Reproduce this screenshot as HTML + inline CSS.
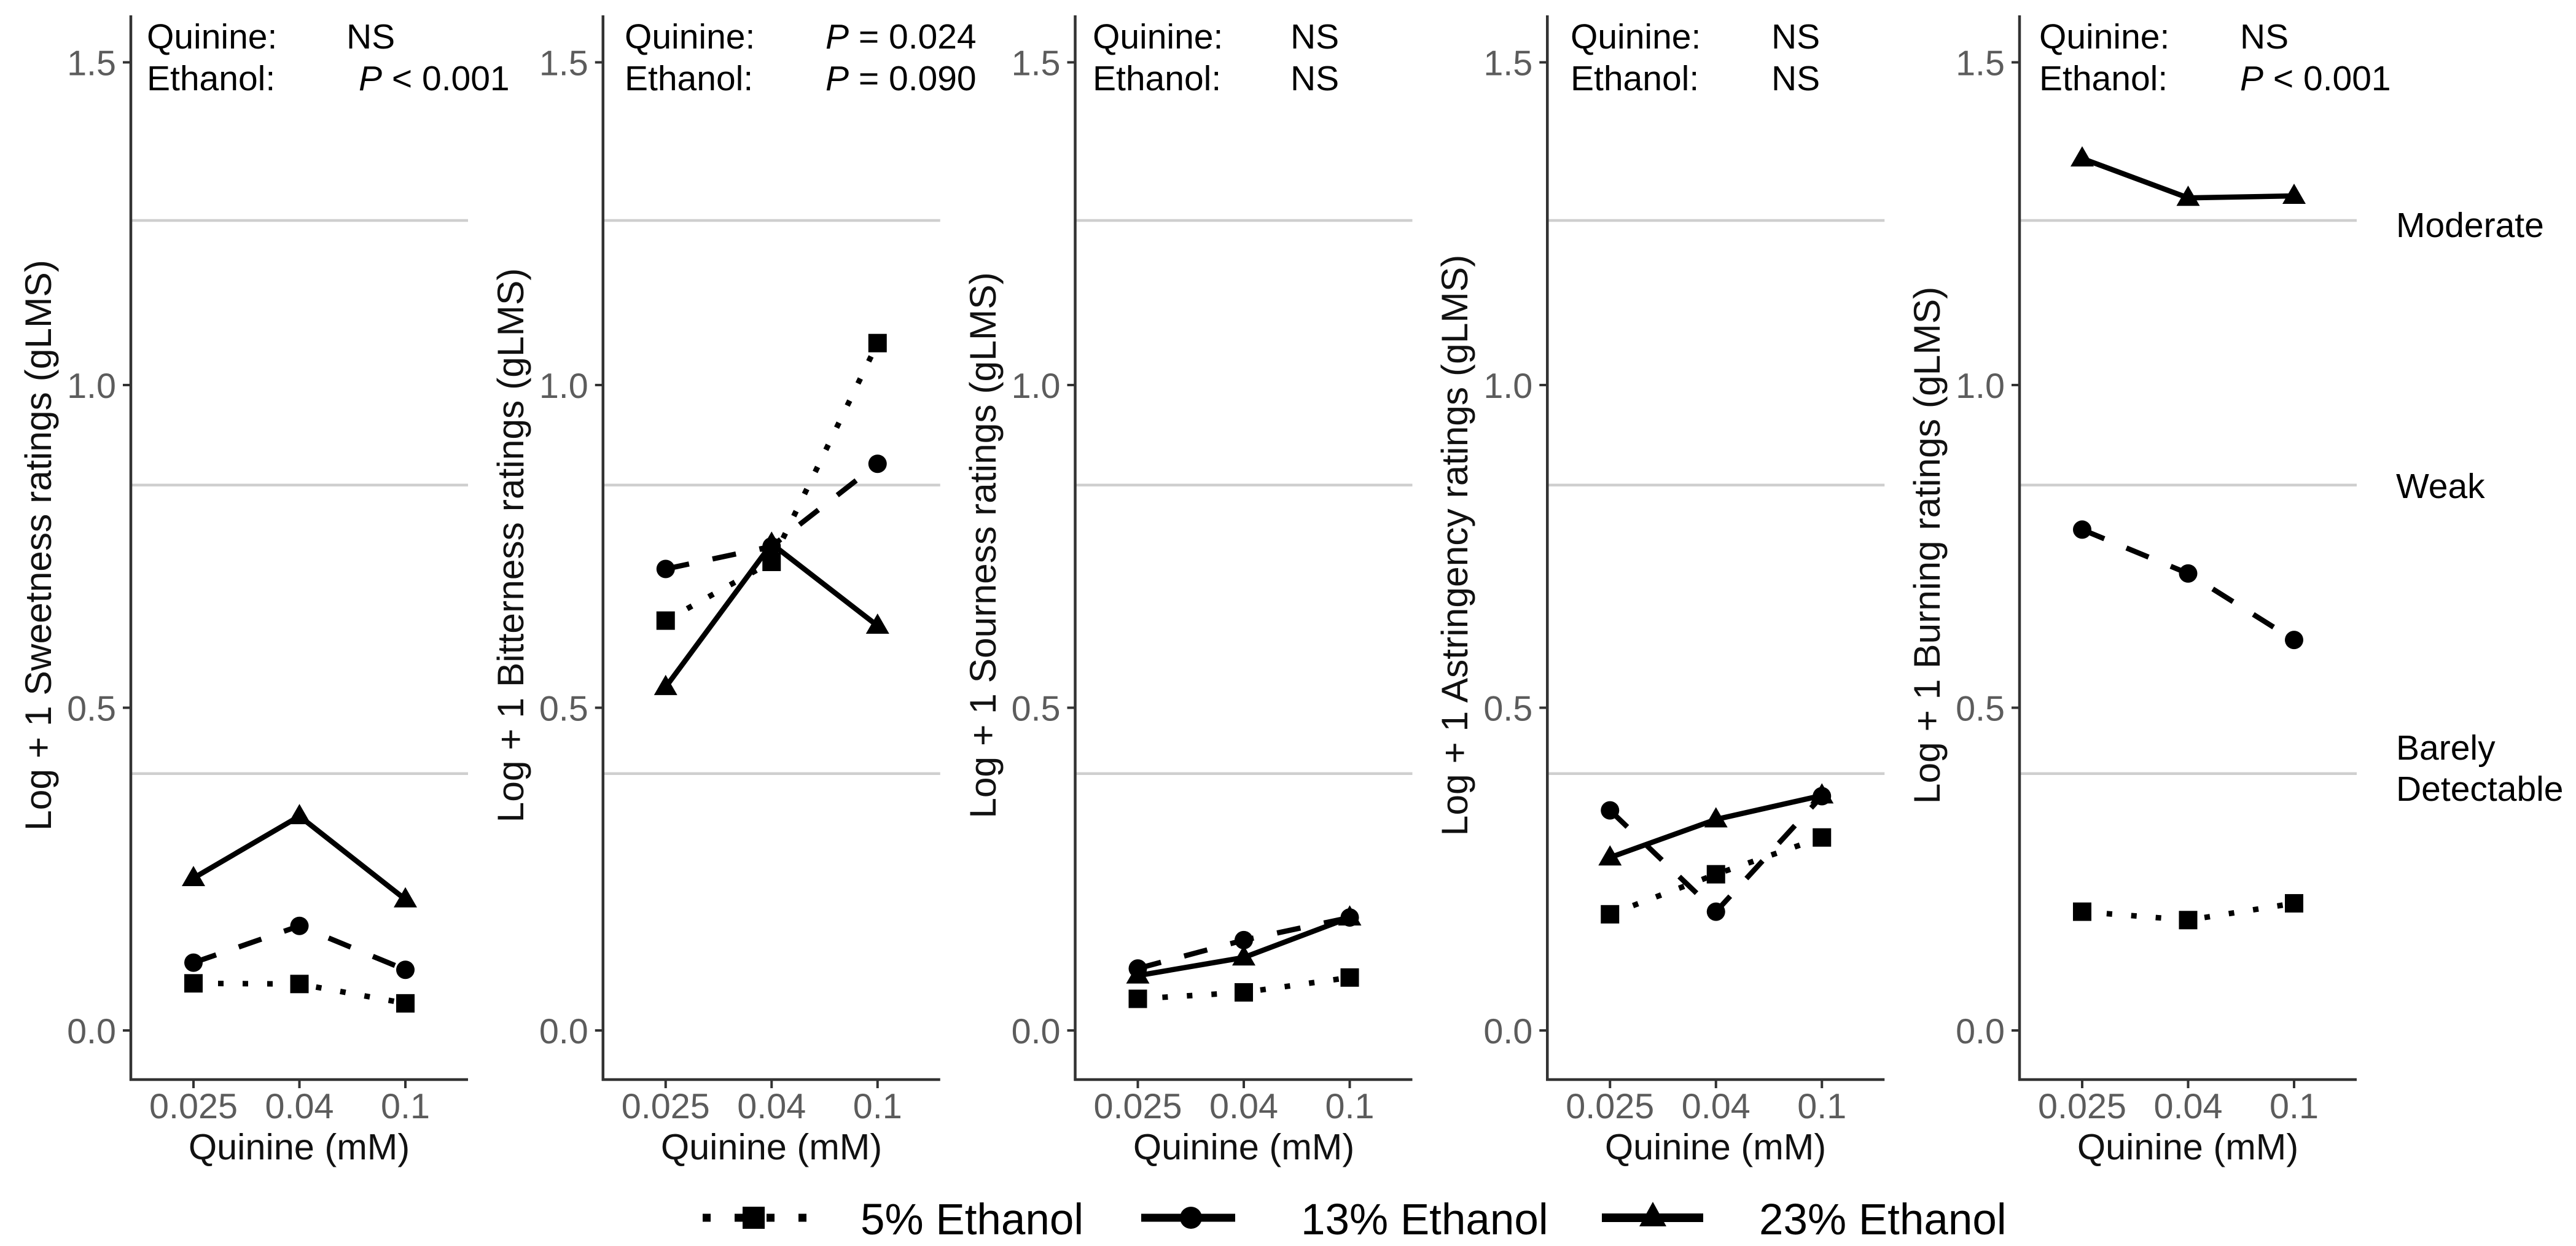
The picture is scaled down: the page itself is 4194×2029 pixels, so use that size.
<!DOCTYPE html>
<html lang="en">
<head>
<meta charset="utf-8">
<title>Log + 1 sensory ratings by quinine and ethanol concentration</title>
<style>
html,body{margin:0;padding:0;background:#fff;}
#chart{display:block;width:4194px;height:2029px;font-family:"Liberation Sans",sans-serif;}
.ann{font-size:57px;fill:#000;}
.ytitle{font-size:60.5px;fill:#111;text-anchor:middle;}
.xtitle{font-size:59.5px;fill:#111;text-anchor:middle;}
.tick{font-size:57.5px;fill:#5c5c5c;}
.leg{font-size:71px;fill:#000;}
</style>
</head>
<body>
<svg id="chart" xmlns="http://www.w3.org/2000/svg" width="4194" height="2029" viewBox="0 0 4194 2029">
  <rect x="0" y="0" width="4194" height="2029" fill="#fff"/>
  <g id="plots"></g>

  <g>
    <text class="ytitle" transform="translate(83 888) rotate(-90)">Log + 1 Sweetness ratings (gLMS)</text>
    <text class="ytitle" transform="translate(852 888) rotate(-90)">Log + 1 Bitterness ratings (gLMS)</text>
    <text class="ytitle" transform="translate(1621 888) rotate(-90)">Log + 1 Sourness ratings (gLMS)</text>
    <text class="ytitle" transform="translate(2389 888) rotate(-90)">Log + 1 Astringency ratings (gLMS)</text>
    <text class="ytitle" transform="translate(3158 888) rotate(-90)">Log + 1 Burning ratings (gLMS)</text>
  </g>

  <g>
    <text class="xtitle" x="487" y="1888">Quinine (mM)</text>
    <text class="xtitle" x="1256" y="1888">Quinine (mM)</text>
    <text class="xtitle" x="2025" y="1888">Quinine (mM)</text>
    <text class="xtitle" x="2793" y="1888">Quinine (mM)</text>
    <text class="xtitle" x="3562" y="1888">Quinine (mM)</text>
  </g>

  <g>
    <text class="ann" x="239" y="79">Quinine:</text>
    <text class="ann" x="564" y="79">NS</text>
    <text class="ann" x="239" y="147">Ethanol:</text>
    <text class="ann" x="584" y="147"><tspan font-style="italic">P</tspan> &lt; 0.001</text>

    <text class="ann" x="1017" y="79">Quinine:</text>
    <text class="ann" x="1344" y="79"><tspan font-style="italic">P</tspan> = 0.024</text>
    <text class="ann" x="1017" y="147">Ethanol:</text>
    <text class="ann" x="1344" y="147"><tspan font-style="italic">P</tspan> = 0.090</text>

    <text class="ann" x="1779" y="79">Quinine:</text>
    <text class="ann" x="2101" y="79">NS</text>
    <text class="ann" x="1779" y="147">Ethanol:</text>
    <text class="ann" x="2101" y="147">NS</text>

    <text class="ann" x="2557" y="79">Quinine:</text>
    <text class="ann" x="2884" y="79">NS</text>
    <text class="ann" x="2557" y="147">Ethanol:</text>
    <text class="ann" x="2884" y="147">NS</text>

    <text class="ann" x="3320" y="79">Quinine:</text>
    <text class="ann" x="3647" y="79">NS</text>
    <text class="ann" x="3320" y="147">Ethanol:</text>
    <text class="ann" x="3647" y="147"><tspan font-style="italic">P</tspan> &lt; 0.001</text>
  </g>

  <g>
    <text class="ann" x="3901" y="386">Moderate</text>
    <text class="ann" x="3901" y="811">Weak</text>
    <text class="ann" x="3901" y="1237">Barely</text>
    <text class="ann" x="3901" y="1304">Detectable</text>
  </g>

  <g>
    <g>
      <line x1="1144" y1="1983" x2="1314" y2="1983" stroke="#000" stroke-width="13" stroke-dasharray="13 39"/>
      <rect x="1209" y="1965" width="36" height="36" fill="#000"/>
      <text class="leg" x="1401" y="2010">5% Ethanol</text>
    </g>
    <g>
      <line x1="1858" y1="1983" x2="2011" y2="1983" stroke="#000" stroke-width="13" stroke-dasharray="64 32 57"/>
      <circle cx="1939" cy="1983" r="18" fill="#000"/>
      <text class="leg" x="2118" y="2010">13% Ethanol</text>
    </g>
    <g>
      <line x1="2608" y1="1983" x2="2773" y2="1983" stroke="#000" stroke-width="14"/>
      <polygon points="2691,1957 2713,1997 2669,1997" fill="#000"/>
      <text class="leg" x="2864" y="2010">23% Ethanol</text>
    </g>
  </g>
</svg>

<script>
// Categories and tick labels
const quinineLevels = ["0.025", "0.04", "0.1"];
const yTicks = [0, 0.5, 1.0, 1.5];
const yTickLabels = ["0.0", "0.5", "1.0", "1.5"];
const panelNames = ["sweetness", "bitterness", "sourness", "astringency", "burning"];
const seriesNames = ["5-percent", "13-percent", "23-percent"];
// gLMS reference lines: log10(1 + label value)
const referenceLevels = [1.255, 0.845, 0.398];

// Series values
const sweetness5 = [0.073, 0.072, 0.042];
const sweetness13 = [0.105, 0.162, 0.094];
const sweetness23 = [0.236, 0.332, 0.203];

const bitterness5 = [0.635, 0.726, 1.065];
const bitterness13 = [0.715, 0.75, 0.878];
const bitterness23 = [0.532, 0.754, 0.627];

const sourness5 = [0.049, 0.059, 0.082];
const sourness13 = [0.096, 0.14, 0.175];
const sourness23 = [0.085, 0.113, 0.175];

const astringency5 = [0.18, 0.242, 0.299];
const astringency13 = [0.341, 0.184, 0.363];
const astringency23 = [0.268, 0.327, 0.364];

const burning5 = [0.184, 0.171, 0.197];
const burning13 = [0.776, 0.708, 0.605];
const burning23 = [1.351, 1.29, 1.293];

const panelSeries = [
  [sweetness5, sweetness13, sweetness23],
  [bitterness5, bitterness13, bitterness23],
  [sourness5, sourness13, sourness23],
  [astringency5, astringency13, astringency23],
  [burning5, burning13, burning23]
];

// Layout
const NS = "http://www.w3.org/2000/svg";
const panelLeft = p => 213 + p * 768.75;
const panelWidth = 549;
const plotTop = 25;
const plotBottom = 1758;
const axisColor = "#333";

// Axis functions
function xScale(p, i) { return panelLeft(p) + 102 + i * 172.5; }
function yScale(v) { return 1678 - v * 1051; }

function make(tag, attrs, parent) {
  const el = document.createElementNS(NS, tag);
  for (const k in attrs) el.setAttribute(k, attrs[k]);
  parent.appendChild(el);
  return el;
}

const plots = document.getElementById("plots");

panelNames.forEach(function (name, p) {
  const left = panelLeft(p);
  const g = make("g", {}, plots);
  
  

  referenceLevels.forEach(function (level) {
    const ref = make("line", { x1: left, x2: left + panelWidth, y1: yScale(level), y2: yScale(level), stroke: "#cfcfcf", "stroke-width": 4.5 }, g);
    
    
  });

  const yAxis = make("line", { x1: left, x2: left, y1: plotTop, y2: plotBottom + 2, stroke: axisColor, "stroke-width": 4.5 }, g);
  
  

  const xAxis = make("line", { x1: left - 2, x2: left + panelWidth, y1: plotBottom, y2: plotBottom, stroke: axisColor, "stroke-width": 4.5 }, g);
  
  

  yTicks.forEach(function (t, k) {
    const mark = make("line", { x1: left - 13, x2: left, y1: yScale(t), y2: yScale(t), stroke: axisColor, "stroke-width": 4 }, g);
    
    
    const label = make("text", { x: left - 24, y: yScale(t) + 21, "text-anchor": "end", class: "tick" }, g);
    
    
    label.textContent = yTickLabels[k];
  });

  quinineLevels.forEach(function (q, i) {
    const mark = make("line", { x1: xScale(p, i), x2: xScale(p, i), y1: plotBottom, y2: plotBottom + 14, stroke: axisColor, "stroke-width": 4 }, g);
    
    
    const label = make("text", { x: xScale(p, i), y: 1821, "text-anchor": "middle", class: "tick" }, g);
    
    
    label.textContent = q;
  });

  panelSeries[p].forEach(function (values, s) {
    const sg = make("g", {}, g);
    
    

    const pts = values.map(function (v, i) { return xScale(p, i) + "," + yScale(v); }).join(" ");
    const lineAttrs = { points: pts, fill: "none", stroke: "#000", "stroke-width": s === 0 ? 9 : 8.5, "stroke-linejoin": "miter" };
    if (s === 0) lineAttrs["stroke-dasharray"] = "9 31";
    if (s === 1) lineAttrs["stroke-dasharray"] = "39 39";
    const line = make("polyline", lineAttrs, sg);
    
    

    values.forEach(function (v, i) {
      const cx = xScale(p, i);
      const cy = yScale(v);
      let m;
      if (s === 0) {
        m = make("rect", { x: cx - 15, y: cy - 15, width: 30, height: 30, fill: "#000" }, sg);
      } else if (s === 1) {
        m = make("circle", { cx: cx, cy: cy, r: 15, fill: "#000" }, sg);
      } else {
        m = make("polygon", { points: cx + "," + (cy - 20) + " " + (cx + 19) + "," + (cy + 13) + " " + (cx - 19) + "," + (cy + 13), fill: "#000" }, sg);
      }
      
      
    });
  });
});
</script>
</body>
</html>
